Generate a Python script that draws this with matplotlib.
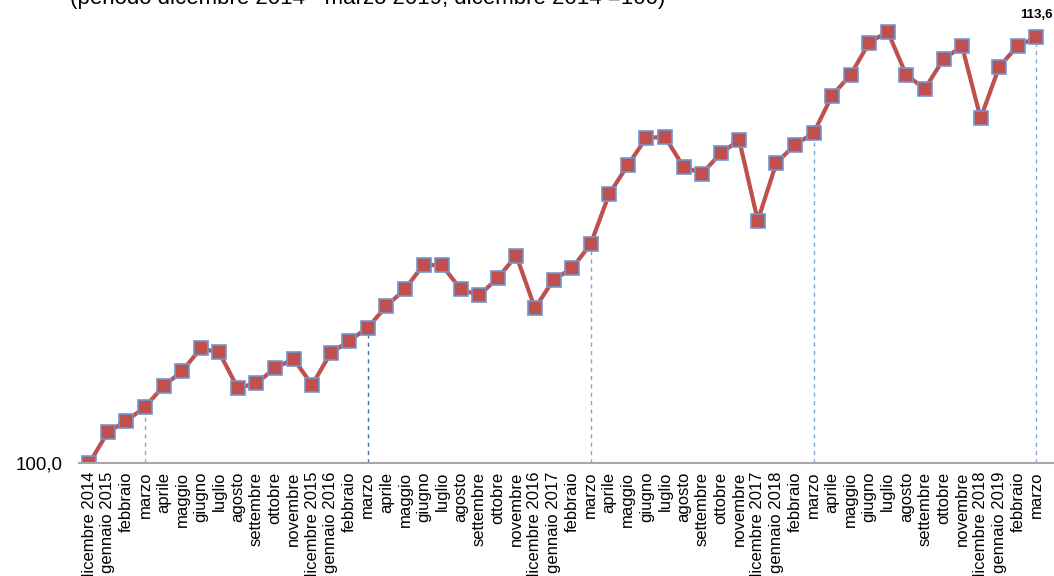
import matplotlib
matplotlib.use("Agg")
import matplotlib.pyplot as plt

# mesi (dicembre 2014 - marzo 2019)
mesi = ["dicembre 2014", "gennaio 2015", "febbraio", "marzo", "aprile", "maggio",
        "giugno", "luglio", "agosto", "settembre", "ottobre", "novembre",
        "dicembre 2015", "gennaio 2016", "febbraio", "marzo", "aprile", "maggio",
        "giugno", "luglio", "agosto", "settembre", "ottobre", "novembre",
        "dicembre 2016", "gennaio 2017", "febbraio", "marzo", "aprile", "maggio",
        "giugno", "luglio", "agosto", "settembre", "ottobre", "novembre",
        "dicembre 2017", "gennaio 2018", "febbraio", "marzo", "aprile", "maggio",
        "giugno", "luglio", "agosto", "settembre", "ottobre", "novembre",
        "dicembre 2018", "gennaio 2019", "febbraio", "marzo"]

indice = [100.00, 100.99, 101.36, 101.79, 102.47, 102.94, 103.67, 103.54, 102.40,
          102.56, 103.03, 103.34, 102.50, 103.52, 103.91, 104.33, 105.02, 105.56,
          106.34, 106.32, 105.56, 105.36, 105.92, 106.63, 104.95, 105.86, 106.23,
          107.00, 108.60, 109.52, 110.39, 110.42, 109.47, 109.25, 109.90, 110.32,
          107.75, 109.59, 110.17, 110.54, 111.74, 112.41, 113.43, 113.78, 112.39,
          111.96, 112.91, 113.31, 111.02, 112.66, 113.33, 113.60]

# posizioni dei marzo (linee tratteggiate)
idx_marzo = [3, 15, 27, 39, 51]

titolo = "(periodo dicembre 2014 - marzo 2019; dicembre 2014 =100)"

FONT = ["Liberation Sans Narrow", "Liberation Sans"]

W, H = 1054, 576
fig = plt.figure(figsize=(W / 100, H / 100), dpi=100)
# asse: da x=79 a x=1054, y da 0 a 463.3 px
ax = fig.add_axes([79 / W, (H - 463.3) / H, (W - 79) / W, 463.3 / H])

x = list(range(len(indice)))
for i in idx_marzo:
    col = "#4A6FA5" if i == 15 else "#7FA7DC"
    ax.plot([i, i], [100, indice[i]], ls=(0, (3, 3)), lw=1.0, color=col, zorder=1)

ax.plot(x, indice, "-", color="#C0504D", lw=3, zorder=2,
        marker="s", markersize=9.5, markerfacecolor="#C0504D",
        markeredgecolor="#6F97CF", markeredgewidth=1.2)

ax.annotate("113,6", (x[-1], indice[-1]), xytext=(0, 12), textcoords="offset points",
            ha="center", va="bottom", fontsize=9.5, fontweight="bold",
            family="Liberation Sans")

ax.set_xlim(-0.55, 51.95)
ax.set_ylim(100, 100 + 463.3 / 31.32)
ax.set_xticks(x)
ax.set_xticklabels(mesi, rotation=90, fontsize=12, family=FONT,
                   va="top", ha="center")
ax.tick_params(axis="x", length=0, pad=6)
ax.set_yticks([100])
ax.set_yticklabels(["100,0"], fontsize=13.5, family="Liberation Sans")
ax.tick_params(axis="y", length=0, pad=12)

for s in ["top", "right", "left"]:
    ax.spines[s].set_visible(False)
ax.spines["bottom"].set_color("#A6A6A6")
ax.spines["bottom"].set_linewidth(1.5)

fig.text(70 / W, 1 - 4 / H, titolo, ha="left", va="baseline",
         fontsize=16, family="Liberation Sans")

fig.savefig("out.png", dpi=100)
